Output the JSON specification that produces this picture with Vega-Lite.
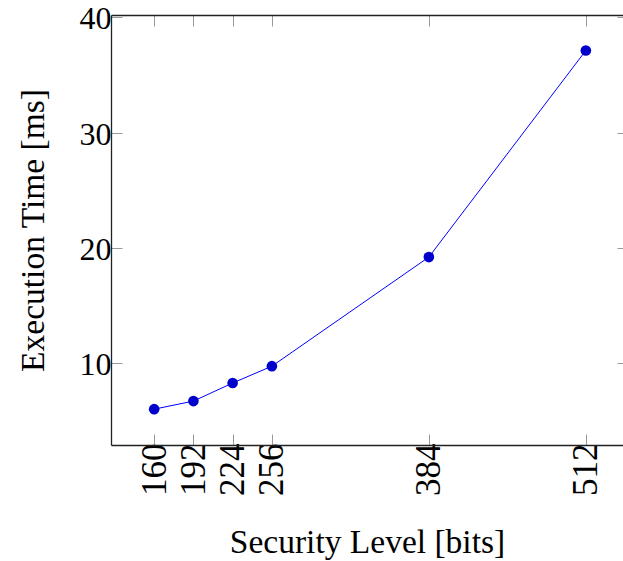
{
  "$schema": "https://vega.github.io/schema/vega-lite/v6.json",
  "width": 512,
  "height": 430,
  "autosize": {"type": "none"},
  "padding": {"left": 111, "top": 15, "right": 0, "bottom": 116},
  "background": "white",
  "config": {
    "view": {"stroke": null},
    "axis": {
      "grid": false,
      "labelFont": "Liberation Serif",
      "titleFont": "Liberation Serif",
      "labelColor": "black",
      "titleColor": "black",
      "titleFontWeight": "normal",
      "domainColor": "#222",
      "domainWidth": 1.3,
      "tickColor": "#999",
      "tickWidth": 1
    }
  },
  "data": {
    "values": [
      {"bits": 160, "ms": 6.0},
      {"bits": 192, "ms": 6.7},
      {"bits": 224, "ms": 8.27},
      {"bits": 256, "ms": 9.73},
      {"bits": 384, "ms": 19.2},
      {"bits": 512, "ms": 37.13}
    ]
  },
  "layer": [
    {
      "mark": {"type": "line", "color": "#0000ff", "strokeWidth": 1},
      "encoding": {
        "x": {
          "field": "bits", "type": "quantitative",
          "scale": {"domain": [124.8, 542.3], "nice": false, "zero": false},
          "axis": {
            "orient": "bottom",
            "values": [160, 192, 224, 256, 384, 512],
            "title": "Security Level [bits]",
            "titleFontSize": 33.5,
            "labelFontSize": 35,
            "labelAngle": -90,
            "labelPadding": 9,
            "tickSize": -11,
            "titleY": 107,
            "titleBaseline": "alphabetic"
          }
        },
        "y": {
          "field": "ms", "type": "quantitative",
          "scale": {"domain": [2.89, 40.21], "nice": false, "zero": false},
          "axis": {
            "orient": "left",
            "values": [10, 20, 30, 40],
            "title": "Execution Time [ms]",
            "titleFontSize": 33.5,
            "labelFontSize": 32,
            "labelBaseline": "alphabetic",
            "labelOffset": 11.5,
            "labelPadding": 11,
            "tickSize": -11,
            "titleAngle": -90,
            "titleX": -68,
            "titleY": 215,
            "titleBaseline": "alphabetic",
            "titleAlign": "center"
          }
        }
      }
    },
    {
      "mark": {"type": "point", "filled": true, "shape": "circle", "size": 113, "color": "#0000cc", "opacity": 1},
      "encoding": {
        "x": {
          "field": "bits", "type": "quantitative",
          "scale": {"domain": [124.8, 542.3], "nice": false, "zero": false},
          "axis": {
            "orient": "top",
            "values": [160, 192, 224, 256, 384, 512],
            "title": null,
            "labels": false,
            "tickSize": -11
          }
        },
        "y": {
          "field": "ms", "type": "quantitative",
          "scale": {"domain": [2.89, 40.21], "nice": false, "zero": false},
          "axis": {
            "orient": "right",
            "values": [10, 20, 30, 40],
            "title": null,
            "labels": false,
            "domain": false,
            "tickSize": -6
          }
        }
      }
    }
  ],
  "resolve": {"axis": {"x": "independent", "y": "independent"}}
}
